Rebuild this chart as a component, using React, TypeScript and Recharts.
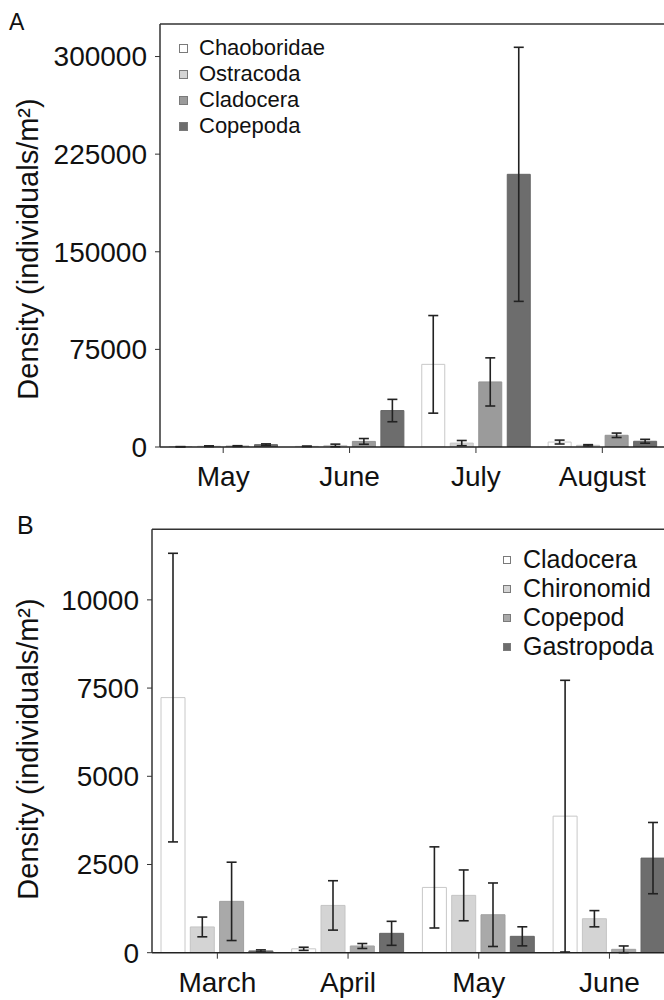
import React from 'react';
import { BarChart, Bar, XAxis, YAxis, ErrorBar, Legend, ReferenceLine } from 'recharts';

const FONT = '"Liberation Sans", Arial, Helvetica, sans-serif';

// ---------- Panel A data ----------
const monthsA = ['May', 'June', 'July', 'August'];
const chaoboridae = [200, 500, 63500, 3800];
const chaoboridaeErr = [100, 200, 37500, 1500];
const ostracoda = [600, 1200, 3000, 1300];
const ostracodaErr = [300, 1000, 2000, 500];
const cladoceraA = [700, 4300, 50000, 9000];
const cladoceraAErr = [300, 2200, 18500, 1700];
const copepoda = [1800, 28000, 209500, 4400];
const copepodaErr = [600, 8600, 97600, 1500];
const ticksA = [0, 75000, 150000, 225000, 300000];

// ---------- Panel B data ----------
const monthsB = ['March', 'April', 'May', 'June'];
const cladoceraB = [7230, 110, 1850, 3870];
const cladoceraBErr = [4090, 45, 1150, 3850];
const chironomid = [730, 1340, 1625, 963];
const chironomidErr = [280, 700, 720, 230];
const copepod = [1455, 190, 1076, 96];
const copepodErr = [1110, 70, 900, 95];
const gastropoda = [50, 549, 464, 2681];
const gastropodaErr = [30, 340, 270, 1010];
const ticksB = [0, 2500, 5000, 7500, 10000];

type Series = { name: string; values: number[]; errors: number[]; fill: string; stroke: string };

const seriesA: Series[] = [
  { name: 'Chaoboridae', values: chaoboridae, errors: chaoboridaeErr, fill: '#ffffff', stroke: '#c8c8c8' },
  { name: 'Ostracoda', values: ostracoda, errors: ostracodaErr, fill: '#d4d4d4', stroke: '#c4c4c4' },
  { name: 'Cladocera', values: cladoceraA, errors: cladoceraAErr, fill: '#9b9b9b', stroke: '#939393' },
  { name: 'Copepoda', values: copepoda, errors: copepodaErr, fill: '#6d6d6d', stroke: '#666666' },
];

const seriesB: Series[] = [
  { name: 'Cladocera', values: cladoceraB, errors: cladoceraBErr, fill: '#ffffff', stroke: '#c8c8c8' },
  { name: 'Chironomid', values: chironomid, errors: chironomidErr, fill: '#d4d4d4', stroke: '#c4c4c4' },
  { name: 'Copepod', values: copepod, errors: copepodErr, fill: '#a9a9a9', stroke: '#a0a0a0' },
  { name: 'Gastropoda', values: gastropoda, errors: gastropodaErr, fill: '#6d6d6d', stroke: '#666666' },
];

const buildData = (cats: string[], series: Series[]) =>
  cats.map((c, i) => {
    const row: Record<string, string | number> = { month: c };
    series.forEach((s, k) => {
      row[`v${k}`] = s.values[i];
      row[`e${k}`] = s.errors[i];
    });
    return row;
  });

const dataA = buildData(monthsA, seriesA);
const dataB = buildData(monthsB, seriesB);

const makeLegend = (series: Series[], fontSize: number, rowH: number, sq: number, gap: number) => () => (
  <div style={{ fontFamily: FONT, fontSize, lineHeight: `${rowH}px`, color: '#111' }}>
    {series.map((s) => (
      <div key={s.name} style={{ display: 'flex', alignItems: 'center', height: rowH, whiteSpace: 'nowrap' }}>
        <span
          style={{
            display: 'inline-block',
            width: sq,
            height: sq,
            boxSizing: 'border-box',
            background: s.fill,
            border: '1px solid #7a7a7a',
            marginRight: gap,
          }}
        />
        {s.name}
      </div>
    ))}
  </div>
);

const yLabel = (cx: number, cy: number) => () => (
  <text
    x={cx}
    y={cy}
    transform={`rotate(-90, ${cx}, ${cy})`}
    textAnchor="middle"
    fontSize={29}
    fontFamily={FONT}
    fill="#111"
  >
    Density (individuals/m²)
  </text>
);

const tickStyle = { fontSize: 28, fill: '#111', fontFamily: FONT };

function Panel({
  data,
  series,
  ticks,
  domainMax,
  width,
  height,
  margin,
  yAxisWidth,
  xAxisHeight,
  barSize,
  barGap,
  legend,
  legendPos,
  labelPos,
  topStroke,
  topWidth,
}: any) {
  return (
    <BarChart
      width={width}
      height={height}
      data={data}
      margin={margin}
      barSize={barSize}
      barGap={barGap}
    >
      <XAxis
        dataKey="month"
        tick={tickStyle}
        tickSize={6}
        tickMargin={13}
        height={xAxisHeight}
        stroke="#222"
        axisLine={{ stroke: '#222', strokeWidth: 1.5 }}
        tickLine={{ stroke: '#333', strokeWidth: 1 }}
        interval={0}
      />
      <YAxis
        domain={[0, domainMax]}
        ticks={ticks}
        width={yAxisWidth}
        tick={tickStyle}
        tickSize={5}
        tickMargin={8}
        axisLine={{ stroke: '#333', strokeWidth: 1.5 }}
        tickLine={{ stroke: '#333', strokeWidth: 1 }}
        allowDataOverflow
        label={{ content: yLabel(labelPos[0], labelPos[1]) }}
      />
      <ReferenceLine y={domainMax} stroke={topStroke} strokeWidth={topWidth} />
      {series.map((s: Series, k: number) => (
        <Bar
          key={s.name}
          dataKey={`v${k}`}
          name={s.name}
          fill={s.fill}
          stroke={s.stroke}
          strokeWidth={1}
          isAnimationActive={false}
        >
          <ErrorBar dataKey={`e${k}`} width={5} stroke="#222" strokeWidth={1.6} direction="y" />
        </Bar>
      ))}
      <Legend
        layout="vertical"
        align="center"
        verticalAlign="middle"
        content={legend}
        wrapperStyle={{ left: legendPos[0], top: legendPos[1], width: 180, height: 'auto' }}
      />
    </BarChart>
  );
}

export default function App() {
  return (
    <div
      style={{
        position: 'absolute',
        left: 0,
        top: 0,
        width: 664,
        height: 1000,
        overflow: 'hidden',
        background: '#fff',
        fontFamily: FONT,
      }}
    >
      <div style={{ position: 'absolute', left: 0, top: 0 }}>
        <Panel
          data={dataA}
          series={seriesA}
          ticks={ticksA}
          domainMax={325000}
          width={690}
          height={500}
          margin={{ top: 24, right: 24.5, left: 0, bottom: 0 }}
          yAxisWidth={160}
          xAxisHeight={53}
          barSize={23}
          barGap={5.5}
          legend={makeLegend(seriesA, 22, 26, 9, 11)}
          legendPos={[179, 35]}
          labelPos={[38, 249]}
          topStroke="#666"
          topWidth={2}
        />
      </div>
      <div style={{ position: 'absolute', left: 0, top: 500 }}>
        <Panel
          data={dataB}
          series={seriesB}
          ticks={ticksB}
          domainMax={12000}
          width={690}
          height={500}
          margin={{ top: 29.3, right: 15.2, left: 0, bottom: 0 }}
          yAxisWidth={152}
          xAxisHeight={47.3}
          barSize={24}
          barGap={5.3}
          legend={makeLegend(seriesB, 25, 29, 8, 12)}
          legendPos={[503, 45]}
          labelPos={[38, 249]}
          topStroke="#333"
          topWidth={1.5}
        />
      </div>
      <div style={{ position: 'absolute', left: 9, top: 9, fontSize: 23, lineHeight: '26px', color: '#111' }}>A</div>
      <div style={{ position: 'absolute', left: 17, top: 511, fontSize: 25, lineHeight: '28px', color: '#111' }}>B</div>
    </div>
  );
}
